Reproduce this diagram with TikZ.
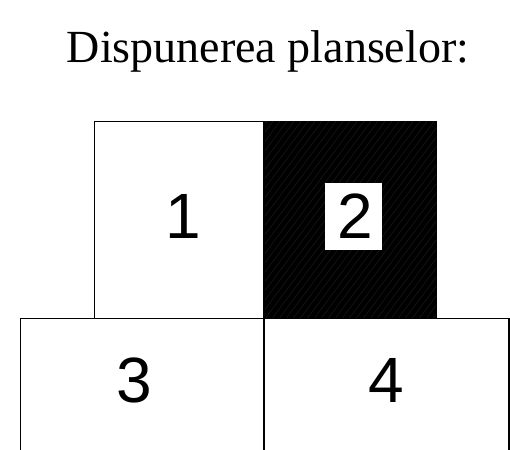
\documentclass[tikz,border=0pt]{standalone}
\usepackage{fontspec}
\setmainfont{Liberation Serif}
\newfontfamily\arialfont{Liberation Sans}
\begin{document}
\begin{tikzpicture}[x=1pt,y=-1pt, line width=1.3pt,
  sheet/.style={draw=black, rectangle, anchor=north west, inner sep=0pt, outer sep=0pt},
  digit/.style={font=\arialfont\fontsize{64}{64}\selectfont, anchor=base, inner sep=0pt},
  hatch/.style={line width=0.4pt, draw=black!88!white}]
\useasboundingbox (0,0) rectangle (510,449);
\clip (0,0) rectangle (510,449);
\node[font=\fontsize{46}{46}\selectfont, anchor=base, inner sep=0pt] (title) at (268,63) {Dispunerea planselor:};
% sheet 2 (black)
\node[sheet, fill=black, minimum width=172pt, minimum height=196.8pt] (s2) at (264,121.7) {};
\begin{scope}
  \clip (s2.north west) rectangle (s2.south east);
  \foreach \i in {-24,...,26} \draw[hatch] (264+\i*7,320) -- ++(150,-200);
\end{scope}
% sheet 1
\node[sheet, minimum width=169.5pt, minimum height=196.8pt] (s1) at (94.5,121.7) {};
% sheets 3 and 4
\node[sheet, minimum width=243.5pt, minimum height=160pt] (s3) at (20.5,318.5) {};
\node[sheet, minimum width=245pt, minimum height=160pt] (s4) at (264,318.5) {};
% labels
\node[digit] (n1) at (183.5,238) {1};
\node[fill=white, inner sep=0pt, minimum width=57pt, minimum height=67pt] (w2) at (353.5,216.5) {};
\node[digit] (n2) at (355.5,238) {2};
\node[digit] (n3) at (134,402) {3};
\node[digit] (n4) at (386,402) {4};
\end{tikzpicture}
\end{document}
